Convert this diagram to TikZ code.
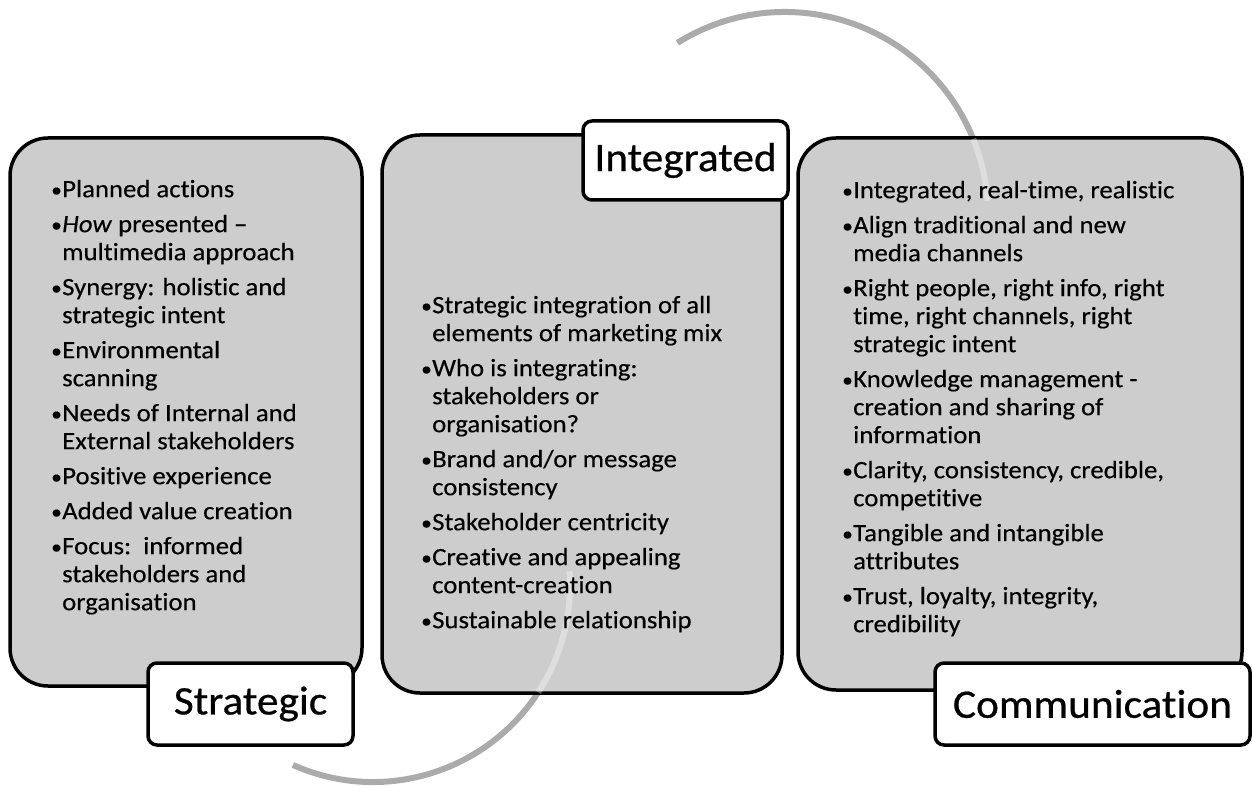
\documentclass[tikz,border=0pt]{standalone}
\usepackage{fontspec}
\setmainfont{Carlito}[FakeStretch=1.07, Ligatures=NoCommon]
\newfontfamily\labelfont{Carlito}[FakeStretch=1.07, FakeBold=0.6, Ligatures=NoCommon]
\newfontfamily\bodyfont{Carlito}[FakeStretch=1.07, FakeBold=0.35, Ligatures=NoCommon, ItalicFont=Carlito Italic, ItalicFeatures={FakeStretch=1.07, FakeBold=0.35}]
\usepackage{array}
\definecolor{boxgray}{RGB}{205,205,205}
\definecolor{arcgray}{RGB}{171,171,171}
\newcommand\mybul{\makebox[11pt][l]{\raisebox{0.5pt}{\fontsize{20}{28}\selectfont •}}}
\tikzset{
  mainbox/.style={draw=black, line width=3.5pt, fill=boxgray, rounded corners=38pt, inner sep=0pt},
  labelbox/.style={draw=black, line width=3.5pt, fill=white, rounded corners=9pt, inner sep=0pt, font=\labelfont\fontsize{40.5}{44}\selectfont},
  arcline/.style={draw=arcgray, line width=6pt},
  arcfaint/.style={draw=white, draw opacity=0.35, line width=6pt},
  bodytext/.style={inner sep=0pt, anchor=north west, font=\bodyfont\fontsize{25}{28}\selectfont}
}
\begin{document}
\begin{tikzpicture}[x=1pt,y=1pt]
\useasboundingbox (0,0) rectangle (1252,785);
% arcs behind
\coordinate (tc) at (785,570);
\coordinate (bc) at (373,200);
\path (tc) ++(122:203) coordinate (ta);
\path (bc) ++(-114:197) coordinate (ba);
\draw[arcline] (ta) arc[start angle=122, end angle=4, radius=203];
\draw[arcline] (ba) arc[start angle=-114, end angle=4, radius=197];
% main boxes
\node[mainbox, minimum width=352, minimum height=548] (sbox) at (186,373) {};
\node[mainbox, minimum width=400, minimum height=558] (ibox) at (582,371) {};
\node[mainbox, minimum width=444, minimum height=552] (cbox) at (1020,371) {};
% faint arc continuation inside boxes
\path (tc) ++(22:203) coordinate (tin);
\path (bc) ++(-33:197) coordinate (bin);
\draw[arcfaint] (tin) arc[start angle=22, end angle=4, radius=203];
\draw[arcfaint] (bin) arc[start angle=-33, end angle=4, radius=197];
% body texts
\node[bodytext] (stext) at (51,607.6) {\begin{tabular}{@{}l@{}l@{}}
\mybul & Planned actions\\[7pt]
\mybul & \textit{How} presented –\\
 & multimedia approach\\[7pt]
\mybul & Synergy: holistic and\\
 & strategic intent\\[7pt]
\mybul & Environmental\\
 & scanning\\[7pt]
\mybul & Needs of Internal and\\
 & External stakeholders\\[7pt]
\mybul & Positive experience\\[7pt]
\mybul & Added value creation\\[7pt]
\mybul & Focus:\ \ informed\\
 & stakeholders and\\
 & organisation
\end{tabular}};
\node[bodytext] (itext) at (421,491.6) {\begin{tabular}{@{}l@{}l@{}}
\mybul & Strategic integration of all\\
 & elements of marketing mix\\[7pt]
\mybul & Who is integrating:\\
 & stakeholders or\\
 & organisation?\\[7pt]
\mybul & Brand and/or message\\
 & consistency\\[7pt]
\mybul & Stakeholder centricity\\[7pt]
\mybul & Creative and appealing\\
 & content-creation\\[7pt]
\mybul & Sustainable relationship
\end{tabular}};
\node[bodytext] (ctext) at (842,606.6) {\begin{tabular}{@{}l@{}l@{}}
\mybul & Integrated, real-time, realistic\\[7pt]
\mybul & Align traditional and new\\
 & media channels\\[7pt]
\mybul & Right people, right info, right\\
 & time, right channels, right\\
 & strategic intent\\[7pt]
\mybul & Knowledge management -\\
 & creation and sharing of\\
 & information\\[7pt]
\mybul & Clarity, consistency, credible,\\
 & competitive\\[7pt]
\mybul & Tangible and intangible\\
 & attributes\\[7pt]
\mybul & Trust, loyalty, integrity,\\
 & credibility
\end{tabular}};
% labels
\node[labelbox, minimum width=205, minimum height=82] (slab) at (250.5,81) {Strategic};
\node[labelbox, minimum width=205, minimum height=79] (ilab) at (685.5,624.5) {Integrated};
\node[labelbox, minimum width=315, minimum height=82] (clab) at (1092.5,81) {Communication};
\end{tikzpicture}
\end{document}
